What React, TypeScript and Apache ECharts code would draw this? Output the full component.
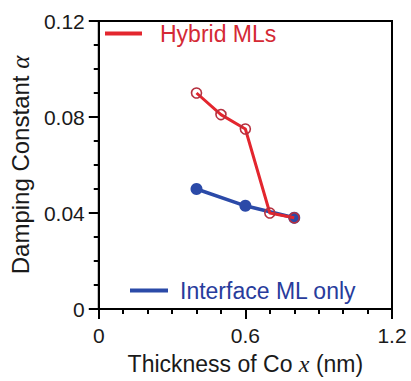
import React, { useEffect, useRef } from "react";
import * as echarts from "echarts";

const hybridX = [0.4, 0.5, 0.6, 0.7, 0.8];
const hybridY = [0.09, 0.081, 0.075, 0.04, 0.038];
const interfaceX = [0.4, 0.6, 0.8];
const interfaceY = [0.05, 0.043, 0.038];
const seriesNames = ["Hybrid MLs", "Interface ML only"];
const xTicks = { min: 0, max: 1.2, interval: 0.6 };
const yTicks = { min: 0, max: 0.12, interval: 0.04 };

const RED = "#e3262e";
const RED_DARK = "#b5303f";
const BLUE = "#2b4aa8";
const FONT = "'Liberation Sans', Arial, sans-serif";
const SERIF = "'Liberation Serif', 'Times New Roman', serif";

export default function App() {
  const ref = useRef<HTMLDivElement>(null);
  useEffect(() => {
    if (!ref.current) return;
    const chart = echarts.init(ref.current, undefined, { renderer: "svg" });
    const tickStyle = { fontSize: 21, color: "#1a1a1a", fontFamily: FONT };
    chart.setOption({
      animation: false,
      grid: {
        left: 98,
        top: 21,
        width: 294,
        height: 294,
        show: true,
        borderColor: "#000",
        borderWidth: 2,
        backgroundColor: "transparent",
      },
      legend: [
        {
          data: [{ name: seriesNames[0], itemStyle: { color: RED, borderWidth: 0 } }],
          left: 105,
          top: 22,
          padding: 0,
          icon: "rect",
          itemWidth: 37,
          itemHeight: 4,
          selectedMode: false,
          textStyle: { fontSize: 23, color: "#d42a35", fontFamily: FONT, padding: [0, 0, 0, 13] },
        },
        {
          data: [{ name: seriesNames[1], itemStyle: { color: BLUE, borderWidth: 0 } }],
          left: 130,
          top: 279,
          padding: 0,
          icon: "rect",
          itemWidth: 38,
          itemHeight: 4,
          selectedMode: false,
          textStyle: { fontSize: 23, color: "#283c9c", fontFamily: FONT, padding: [0, 0, 0, 7] },
        },
      ],
      xAxis: {
        type: "value",
        min: xTicks.min,
        max: xTicks.max,
        interval: xTicks.interval,
        name: "Thickness of Co {i|x} (nm)",
        nameLocation: "middle",
        nameGap: 43,
        nameTextStyle: {
          fontSize: 23,
          color: "#1a1a1a",
          fontFamily: FONT,
          rich: { i: { fontFamily: SERIF, fontStyle: "italic", fontSize: 24, color: "#1a1a1a" } },
        },
        axisLine: { show: true, onZero: false, lineStyle: { color: "#000", width: 2 } },
        axisTick: { show: true, inside: false, length: 10, lineStyle: { color: "#000", width: 2 } },
        minorTick: { show: true, splitNumber: 6, length: 5, lineStyle: { color: "#000", width: 2 } },
        axisLabel: { ...tickStyle, margin: 16 },
        splitLine: { show: false },
      },
      yAxis: {
        type: "value",
        min: yTicks.min,
        max: yTicks.max,
        interval: yTicks.interval,
        name: "Damping Constant {a|α}",
        nameLocation: "middle",
        nameGap: 62,
        nameTextStyle: {
          fontSize: 24,
          color: "#1a1a1a",
          fontFamily: FONT,
          rich: { a: { fontFamily: SERIF, fontStyle: "italic", fontSize: 25, color: "#1a1a1a" } },
        },
        axisLine: { show: true, onZero: false, lineStyle: { color: "#000", width: 2 } },
        axisTick: { show: true, inside: false, length: 10, lineStyle: { color: "#000", width: 2 } },
        minorTick: { show: true, splitNumber: 4, length: 5, lineStyle: { color: "#000", width: 2 } },
        axisLabel: { ...tickStyle, margin: 14 },
        splitLine: { show: false },
      },
      series: [
        {
          name: seriesNames[1],
          type: "line",
          data: interfaceX.map((x, i) => [x, interfaceY[i]]),
          symbol: "circle",
          symbolSize: 12,
          lineStyle: { color: BLUE, width: 3.5 },
          itemStyle: { color: BLUE },
          z: 2,
        },
        {
          name: seriesNames[0],
          type: "line",
          data: hybridX.map((x, i) => [x, hybridY[i]]),
          symbol: "circle",
          symbolSize: 10,
          lineStyle: { color: RED, width: 3 },
          itemStyle: { color: "rgba(255,255,255,0)", borderColor: RED_DARK, borderWidth: 1.6 },
          z: 3,
        },
      ],
    });
    return () => chart.dispose();
  }, []);
  return (
    <div
      ref={ref}
      style={{ position: "fixed", left: 0, top: 0, width: 411, height: 381, background: "#fff" }}
    />
  );
}
